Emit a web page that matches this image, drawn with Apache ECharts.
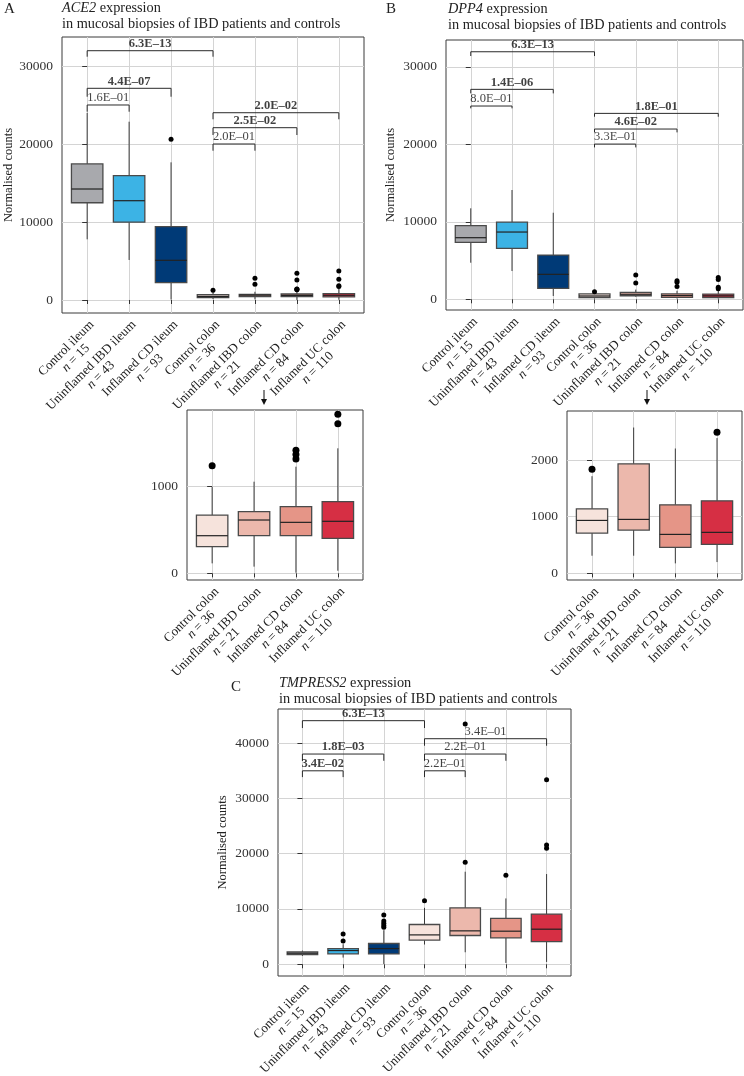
<!DOCTYPE html>
<html><head><meta charset="utf-8">
<script src="https://cdn.jsdelivr.net/npm/echarts@6/dist/echarts.min.js"></script>
<style>html,body{margin:0;padding:0;background:#fff}#c{width:744px;height:1076px}</style>
</head><body><div id="c"></div>
<script>
// ---------- data ----------
const CATS_ALL = ['Control ileum','Uninflamed IBD ileum','Inflamed CD ileum','Control colon','Uninflamed IBD colon','Inflamed CD colon','Inflamed UC colon'];
const N_ALL = [15, 43, 93, 36, 21, 84, 110];
const CATS_COLON = ['Control colon','Uninflamed IBD colon','Inflamed CD colon','Inflamed UC colon'];
const N_COLON = [36, 21, 84, 110];

// [min, Q1, median, Q3, max]
const ACE2_BOX = [
  [7780, 12470, 14230, 17450, 24000],
  [5130, 9980, 12730, 15940, 22860],
  [60, 2220, 5090, 9400, 17650],
  [115, 307, 434, 672, 995],
  [77, 434, 615, 711, 1057],
  [7, 434, 588, 769, 1230],
  [30, 403, 600, 826, 1442]
];
const ACE2_OUTLIERS = [[], [], [20600], [1241], [2010, 2780], [1320, 1370, 1420, 2560, 3420], [1726, 1834, 2650, 3720]];

const DPP4_BOX = [
  [4720, 7350, 7950, 9500, 11740],
  [3650, 6580, 8680, 9970, 14100],
  [430, 1420, 3220, 5710, 11170],
  [100, 230, 430, 700, 900],
  [330, 460, 650, 900, 1250],
  [100, 260, 480, 700, 1100],
  [100, 230, 450, 680, 1150]
];
const DPP4_OUTLIERS = [[], [], [], [980], [2100, 3130], [1650, 2200, 2400], [1350, 1550, 2550, 2800]];
const DPP4_COLON_BOX = [
  [311, 711, 935, 1140, 1717],
  [311, 764, 953, 1935, 2577],
  [176, 459, 688, 1211, 2206],
  [199, 512, 724, 1281, 2390]
];
const DPP4_COLON_OUTLIERS = [[1841], [], [], [2494]];

const TMPRSS2_BOX = [
  [1500, 1760, 2000, 2230, 2480],
  [1210, 1870, 2480, 2840, 3620],
  [50, 1870, 2840, 3750, 6160],
  [3570, 4350, 5310, 7190, 10200],
  [2170, 5200, 6040, 10200, 16730],
  [240, 4770, 5980, 8280, 11900],
  [420, 4110, 6340, 9060, 16310]
];
const TMPRSS2_OUTLIERS = [[], [4220, 5490], [6700, 7000, 7400, 7800, 8900], [11470], [18430, 43430], [16070], [20960, 21560, 33340]];

// significance brackets: group pairs, bracket level, tip end, p-value text, bold
const SIG_PAIRS = [[0, 3], [0, 2], [0, 1], [3, 6], [3, 5], [3, 4]];
const ACE2_SIG_Y = [31960, 27140, 25000, 24010, 22090, 20000];
const ACE2_SIG_TIP = [31190, 26060, 24140, 23170, 21150, 19140];
const ACE2_SIG_P = ['6.3E\u201313', '4.4E\u201307', '1.6E\u201301', '2.0E\u201302', '2.5E\u201302', '2.0E\u201301'];
const ACE2_SIG_BOLD = [1, 1, 0, 1, 1, 0];
const DPP4_SIG_Y = [31940, 27090, 24940, 23990, 21970, 20030];
const DPP4_SIG_TIP = [31390, 26570, 24640, 23560, 21540, 19600];
const DPP4_SIG_P = ['6.3E\u201313', '1.4E\u201306', '8.0E\u201301', '1.8E\u201301', '4.6E\u201302', '3.3E\u201301'];
const DPP4_SIG_BOLD = [1, 1, 0, 1, 1, 0];
const TMPRSS2_SIG_Y = [44030, 38000, 34970, 40770, 38000, 34970];
const TMPRSS2_SIG_TIP = [42700, 36780, 33830, 39500, 36780, 33830];
const TMPRSS2_SIG_P = ['6.3E\u201313', '1.8E\u201303', '3.4E\u201302', '3.4E\u201301', '2.2E\u201301', '2.2E\u201301'];
const TMPRSS2_SIG_BOLD = [1, 1, 1, 0, 0, 0];

const Y_TICKS_MAIN = [0, 10000, 20000, 30000];
const Y_TICKS_TMPRSS2 = [0, 10000, 20000, 30000, 40000];
const Y_TICKS_ACE2_ZOOM = [0, 1000];
const Y_TICKS_DPP4_ZOOM = [0, 1000, 2000];

// ---------- styling ----------
const SERIF = "'Liberation Serif','DejaVu Serif',serif";
const INK = '#333333';
const GRIDC = '#d4d4d4';
const COLORS_ALL = ['#a8a9ad', '#3cb3e5', '#003a77', '#f6e3dc', '#ecb8ac', '#e59587', '#d62f44'];
const COLORS_COLON = COLORS_ALL.slice(3);

const grids = [], xAxes = [], yAxes = [], series = [];

function renderBox(params, api) {
  const x = api.value(0);
  const pMin = api.coord([x, api.value(1)]);
  const pQ1 = api.coord([x, api.value(2)]);
  const pMed = api.coord([x, api.value(3)]);
  const pQ3 = api.coord([x, api.value(4)]);
  const pMax = api.coord([x, api.value(5)]);
  const half = api.size([0.75, 0])[0] / 2;
  const color = api.visual('color');
  return {
    type: 'group',
    children: [
      {type: 'line', shape: {x1: pMin[0], y1: pMin[1], x2: pQ1[0], y2: pQ1[1]}, style: {stroke: '#3a3a3a', lineWidth: 1}},
      {type: 'line', shape: {x1: pQ3[0], y1: pQ3[1], x2: pMax[0], y2: pMax[1]}, style: {stroke: '#3a3a3a', lineWidth: 1}},
      {type: 'rect', shape: {x: pQ3[0] - half, y: pQ3[1], width: half * 2, height: pQ1[1] - pQ3[1]}, style: {fill: color, stroke: '#4a4a4a', lineWidth: 1.3}},
      {type: 'line', shape: {x1: pMed[0] - half, y1: pMed[1], x2: pMed[0] + half, y2: pMed[1]}, style: {stroke: '#222', lineWidth: 1.2}}
    ]
  };
}

const labelRich = {
  c: {fontFamily: SERIF, fontSize: 13, color: '#222', align: 'center', lineHeight: 13.5},
  i: {fontFamily: SERIF, fontSize: 13, color: '#222', fontStyle: 'italic', align: 'center', lineHeight: 13.5}
};

function addPanel(cfg) {
  const gi = grids.length;
  grids.push({left: cfg.left, top: cfg.top, width: cfg.width, height: cfg.height, show: true,
    containLabel: false, outerBoundsMode: 'none',
    borderColor: '#3a3a3a', borderWidth: 1, backgroundColor: 'transparent'});
  const idx = cfg.cats.map((_, i) => i);
  xAxes.push({
    gridIndex: gi, type: 'value', min: -0.6, max: cfg.cats.length - 0.4,
    axisLine: {show: false},
    axisTick: {show: true, customValues: idx, length: 4, lineStyle: {color: INK}},
    axisLabel: {show: true, customValues: idx, rotate: 45, margin: 5, align: 'right', verticalAlign: 'top',
      formatter: v => '{c|' + cfg.cats[Math.round(v)] + '}\n{i|n}{c| = ' + cfg.ns[Math.round(v)] + '}', rich: labelRich},
    splitLine: {show: true, lineStyle: {color: GRIDC, width: 1}}
  });
  yAxes.push({
    gridIndex: gi, type: 'value', min: cfg.yMin, max: cfg.yMax,
    name: cfg.yName || '', nameLocation: 'middle', nameGap: cfg.nameGap || 50,
    nameTextStyle: {fontFamily: SERIF, fontSize: 12.5, color: '#222'},
    axisLine: {show: false},
    axisTick: {show: true, customValues: cfg.yTicks, length: 5, lineStyle: {color: INK}},
    axisLabel: {customValues: cfg.yTicks, margin: 9, fontFamily: SERIF, fontSize: 13.5, color: INK,
      formatter: v => String(v)},
    splitLine: {show: true, lineStyle: {color: GRIDC, width: 1}}
  });
  series.push({
    type: 'custom', xAxisIndex: gi, yAxisIndex: gi, clip: true, z: 3, renderItem: renderBox,
    data: cfg.boxes.map((b, i) => ({value: [i].concat(b), itemStyle: {color: cfg.colors[i]}}))
  });
  const pts = [];
  cfg.outliers.forEach((arr, i) => arr.forEach(v => pts.push([i, v])));
  series.push({type: 'scatter', xAxisIndex: gi, yAxisIndex: gi, clip: true, z: 4, symbolSize: cfg.dot,
    itemStyle: {color: '#000', opacity: 1}, data: pts});
  if (cfg.sigY) {
    const labels = [];
    SIG_PAIRS.forEach((p, k) => {
      series.push({type: 'line', xAxisIndex: gi, yAxisIndex: gi, z: 5, symbol: 'none', silent: true,
        lineStyle: {color: '#2a2a2a', width: 1},
        data: [[p[0], cfg.sigTip[k]], [p[0], cfg.sigY[k]], [p[1], cfg.sigY[k]], [p[1], cfg.sigTip[k]]]});
      labels.push({name: cfg.sigP[k], value: [(p[0] + p[1]) / 2, cfg.sigY[k]],
        label: {fontWeight: cfg.sigBold[k] ? 'bold' : 'normal'}});
    });
    series.push({type: 'scatter', xAxisIndex: gi, yAxisIndex: gi, z: 6, symbolSize: 1, silent: true,
      itemStyle: {color: 'rgba(0,0,0,0)'},
      label: {show: true, position: 'top', distance: 0, formatter: '{b}', fontFamily: SERIF, fontSize: 12.5, color: '#111'},
      data: labels});
  }
}

// Panel A
addPanel({left: 62, top: 37, width: 302, height: 276, cats: CATS_ALL, ns: N_ALL, colors: COLORS_ALL,
  yMin: -1667, yMax: 33718, yTicks: Y_TICKS_MAIN, yName: 'Normalised counts', nameGap: 47,
  boxes: ACE2_BOX, outliers: ACE2_OUTLIERS, dot: 5,
  sigY: ACE2_SIG_Y, sigTip: ACE2_SIG_TIP, sigP: ACE2_SIG_P, sigBold: ACE2_SIG_BOLD});
addPanel({left: 187, top: 410, width: 176, height: 170, cats: CATS_COLON, ns: N_COLON, colors: COLORS_COLON,
  yMin: -77, yMax: 1884, yTicks: Y_TICKS_ACE2_ZOOM,
  boxes: ACE2_BOX.slice(3), outliers: ACE2_OUTLIERS.slice(3), dot: 7});
// Panel B
addPanel({left: 446, top: 40, width: 297, height: 270, cats: CATS_ALL, ns: N_ALL, colors: COLORS_ALL,
  yMin: -1380, yMax: 33458, yTicks: Y_TICKS_MAIN, yName: 'Normalised counts', nameGap: 49,
  boxes: DPP4_BOX, outliers: DPP4_OUTLIERS, dot: 5,
  sigY: DPP4_SIG_Y, sigTip: DPP4_SIG_TIP, sigP: DPP4_SIG_P, sigBold: DPP4_SIG_BOLD});
addPanel({left: 567, top: 411, width: 175, height: 169, cats: CATS_COLON, ns: N_COLON, colors: COLORS_COLON,
  yMin: -118, yMax: 2869, yTicks: Y_TICKS_DPP4_ZOOM,
  boxes: DPP4_COLON_BOX, outliers: DPP4_COLON_OUTLIERS, dot: 7});
// Panel C
addPanel({left: 278, top: 709, width: 293, height: 267, cats: CATS_ALL, ns: N_ALL, colors: COLORS_ALL,
  yMin: -2120, yMax: 46140, yTicks: Y_TICKS_TMPRSS2, yName: 'Normalised counts', nameGap: 49,
  boxes: TMPRSS2_BOX, outliers: TMPRSS2_OUTLIERS, dot: 5,
  sigY: TMPRSS2_SIG_Y, sigTip: TMPRSS2_SIG_TIP, sigP: TMPRSS2_SIG_P, sigBold: TMPRSS2_SIG_BOLD});

const titleRich = {
  i: {fontFamily: SERIF, fontSize: 14.3, fontStyle: 'italic', fontWeight: 'normal', color: '#222', lineHeight: 16},
  r: {fontFamily: SERIF, fontSize: 14.3, fontWeight: 'normal', color: '#222', lineHeight: 16}
};
const SUB = '{r|in mucosal biopsies of IBD patients and controls}';
const letterStyle = {fontFamily: SERIF, fontSize: 15, fontWeight: 'normal', color: '#222'};
const titleStyle = {fontWeight: 'normal', fontFamily: SERIF, rich: titleRich};
const titles = [
  {text: 'A', left: 4, top: 2, padding: 0, textStyle: letterStyle},
  {text: 'B', left: 386, top: 2, padding: 0, textStyle: letterStyle},
  {text: 'C', left: 231, top: 680, padding: 0, textStyle: letterStyle},
  {text: '{i|ACE2}{r| expression}\n' + SUB, left: 62, top: 0, padding: 0, textStyle: titleStyle},
  {text: '{i|DPP4}{r| expression}\n' + SUB, left: 448, top: 1, padding: 0, textStyle: titleStyle},
  {text: '{i|TMPRESS2}{r| expression}\n' + SUB, left: 279, top: 675, padding: 0, textStyle: titleStyle}
];

function arrow(x, y1, y2) {
  return {type: 'group', children: [
    {type: 'line', shape: {x1: x, y1: y1, x2: x, y2: y2 - 3}, style: {stroke: '#111', lineWidth: 1}},
    {type: 'polygon', shape: {points: [[x - 3, y2 - 6], [x + 3, y2 - 6], [x, y2]]}, style: {fill: '#111'}}
  ]};
}

const chart = echarts.init(document.getElementById('c'), null, {renderer: 'canvas'});
chart.setOption({
  backgroundColor: '#ffffff',
  animation: false,
  title: titles,
  grid: grids,
  xAxis: xAxes,
  yAxis: yAxes,
  series: series,
  graphic: [arrow(264, 390, 405), arrow(647, 390, 405)]
});
</script></body></html>
